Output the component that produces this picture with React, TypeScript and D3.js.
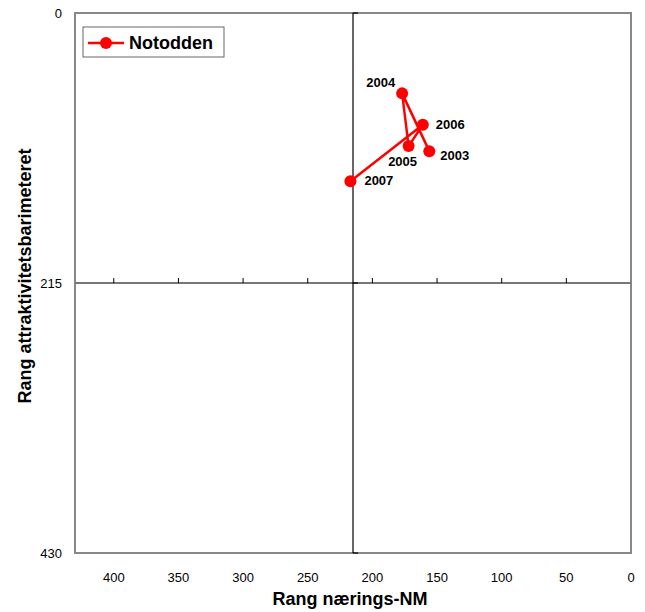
import React from "react";
import * as d3 from "d3";

const years = ["2003", "2004", "2005", "2006", "2007"];
const rangNM = [156, 177, 172, 161, 217];
const rangAttr = [110, 64, 106, 89, 134];
const xTicks = [400, 350, 300, 250, 200, 150, 100, 50, 0];
const yTicks = [0, 215, 430];
const seriesName = "Notodden";
const xTitle = "Rang nærings-NM";
const yTitle = "Rang attraktivitetsbarimeteret";

// label offsets (style, not data): [dx, dy, anchor]
const labelPos: [number, number, string][] = [
  [11, 4, "start"],
  [-7, -11, "end"],
  [-6, 15, "middle"],
  [13, 0, "start"],
  [14, -1, "start"],
];

export default function App() {
  const W = 645, H = 612;
  const left = 75, right = 631, top = 13, bottom = 553;
  const x = d3.scaleLinear().domain([430, 0]).range([left, right]);
  const y = d3.scaleLinear().domain([0, 430]).range([top, bottom]);
  const cx = x(215), cy = y(215);
  const pts = years.map((yr, i) => ({ yr, px: x(rangNM[i]), py: y(rangAttr[i]) }));
  const line = d3.line<{ px: number; py: number }>().x(d => d.px).y(d => d.py);
  const red = "#ff0000";
  const font = "Liberation Sans, Arial, sans-serif";
  return (
    <svg width={W} height={H} style={{ position: "absolute", left: 0, top: 0, background: "#fff" }} fontFamily={font}>
      <rect x={left} y={top} width={right - left} height={bottom - top} fill="#fff" stroke="#888" strokeWidth={2} />
      {/* horizontal center axis */}
      <line x1={left} x2={right} y1={cy} y2={cy} stroke="#777" strokeWidth={2} />
      {xTicks.filter(t => t > 0 && t < 430).map(t => (
        <line key={t} x1={x(t)} x2={x(t)} y1={cy - 5} y2={cy} stroke="#000" strokeWidth={1} />
      ))}
      {/* vertical center axis */}
      <line x1={cx} x2={cx} y1={top} y2={bottom} stroke="#000" strokeWidth={1.2} />
      {yTicks.map(t => (
        <line key={t} x1={cx} x2={cx + 5} y1={y(t)} y2={y(t)} stroke="#000" strokeWidth={1.2} />
      ))}
      {/* tick labels */}
      {yTicks.map(t => (
        <text key={t} x={62} y={y(t)} dy="0.35em" textAnchor="end" fontSize={13} fill="#000">{t}</text>
      ))}
      {xTicks.map(t => (
        <text key={t} x={x(t)} y={577} dy="0.35em" textAnchor="middle" fontSize={13} fill="#000">{t}</text>
      ))}
      {/* axis titles */}
      <text x={(left + right) / 2 - 3} y={599} dy="0.35em" textAnchor="middle" fontSize={18} fontWeight="bold">{xTitle}</text>
      <text transform={`translate(25,${(top + bottom) / 2 - 7}) rotate(-90)`} dy="0.35em" textAnchor="middle" fontSize={18} fontWeight="bold">{yTitle}</text>
      {/* series */}
      <path d={line(pts) || ""} fill="none" stroke={red} strokeWidth={2.5} />
      {pts.map(p => (
        <circle key={p.yr} cx={p.px} cy={p.py} r={6} fill={red} />
      ))}
      {pts.map((p, i) => (
        <text key={"l" + p.yr} x={p.px + labelPos[i][0]} y={p.py + labelPos[i][1]} dy="0.35em"
          textAnchor={labelPos[i][2] as any} fontSize={13} fontWeight="bold" fill="#000">{p.yr}</text>
      ))}
      {/* legend */}
      <rect x={83} y={27} width={141} height={30} fill="#fff" stroke="#666" strokeWidth={1} />
      <line x1={88} x2={124} y1={43} y2={43} stroke={red} strokeWidth={2.5} />
      <circle cx={106} cy={43} r={6} fill={red} />
      <text x={129} y={43} dy="0.35em" fontSize={18} fontWeight="bold">{seriesName}</text>
    </svg>
  );
}
